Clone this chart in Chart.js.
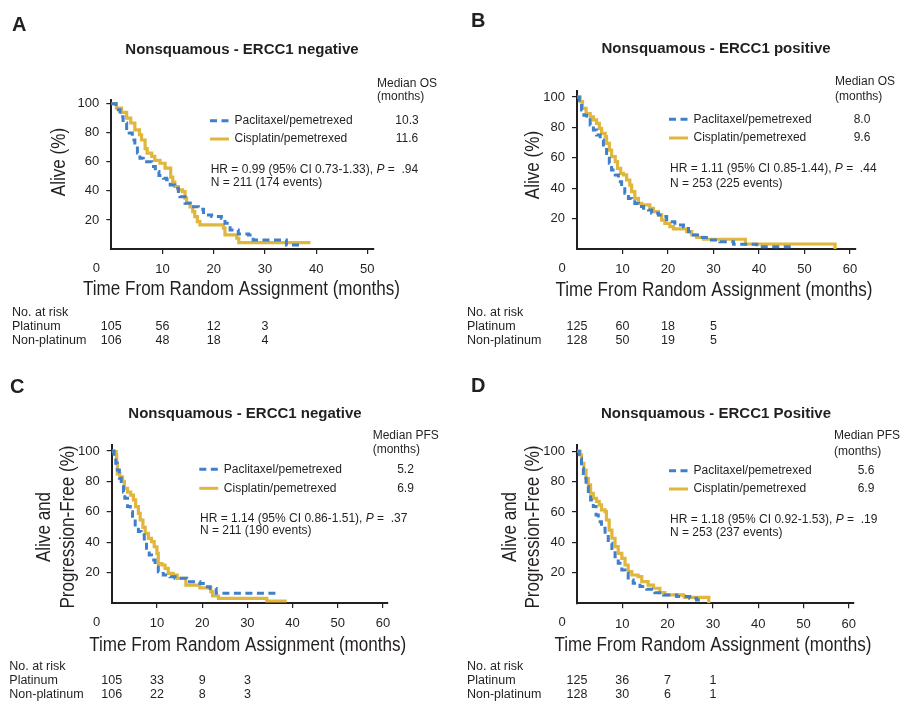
<!DOCTYPE html>
<html>
<head>
<meta charset="utf-8">
<script src="https://cdn.jsdelivr.net/npm/chart.js@4.4.1/dist/chart.umd.min.js"></script>
<style>
  html, body { margin: 0; padding: 0; background: #fff; }
  #wrap { position: relative; width: 907px; height: 709px; overflow: hidden; }
  #wrap canvas { position: absolute; left: 0; top: 0; }
</style>
</head>
<body>
<div id="wrap">
  <canvas id="pA" width="907" height="709"></canvas>
  <canvas id="pB" width="907" height="709"></canvas>
  <canvas id="pC" width="907" height="709"></canvas>
  <canvas id="pD" width="907" height="709"></canvas>
</div>
<script>
// ---- data (months, % alive / progression-free) ----

// A: overall survival, ERCC1 negative
const osNegPacT = [0, 0.9, 1.7, 2.3, 3.0, 3.5, 4.1, 4.6, 5.1, 5.6, 6.25, 7.9, 8.6, 9.3, 10.2, 10.8, 11.5, 12.4, 13.1, 13.4, 14.4, 15.4, 17.0, 18.0, 19.6, 21.5, 22.2, 23.2, 24.8, 26.8, 27.7, 34.2, 37.2];
const osNegPacS = [100, 95.9, 91, 86.7, 83, 79.8, 75, 70.6, 66, 62.5, 60, 56.8, 53.3, 50.5, 48.7, 47.6, 44, 41.8, 39.5, 36, 31.5, 29, 27.4, 23.4, 22.3, 21.1, 17.7, 13.1, 10.3, 9.7, 6.2, 2.8, 2.8];
const osNegCisT = [0, 1.0, 2.0, 3.0, 3.8, 4.6, 5.5, 5.9, 6.6, 7.0, 7.9, 8.5, 9.5, 10.5, 11.6, 12.0, 12.4, 13.1, 13.9, 14.4, 14.7, 15.4, 15.9, 16.3, 16.8, 17.3, 21.9, 22.2, 24.5, 24.9, 38.9];
const osNegCisS = [100, 97, 94, 90, 86.7, 82, 78.6, 75, 69, 66, 63.7, 61, 59, 55.6, 49.5, 46, 43, 40.7, 39.5, 35, 31.5, 29, 25.7, 22.3, 18.9, 16.6, 14.3, 9.7, 7.4, 4.4, 4.4];

// B: overall survival, ERCC1 positive
const osPosPacT = [0, 0.5, 1.0, 1.5, 2.1, 2.9, 3.6, 4.3, 5.1, 5.8, 6.5, 7.1, 7.6, 8.4, 9.1, 9.8, 10.5, 11.3, 12.0, 12.7, 13.5, 14.6, 15.7, 16.4, 17.9, 18.6, 19.7, 21.5, 23.4, 24.5, 25.6, 27.0, 29.2, 31.4, 34.4, 39.5, 47.2];
const osPosPacS = [100, 96, 91.4, 88, 85, 81.6, 78.3, 75, 71.7, 67.3, 61.8, 56.4, 52, 48.7, 44.3, 41, 36.6, 33.3, 32.2, 30, 27.9, 26.8, 25.7, 23.5, 22.4, 21.3, 18, 15.8, 14.7, 11.4, 9.2, 7.5, 5.9, 4.8, 3.1, 1.5, 1.5];
const osPosCisT = [0, 0.7, 1.2, 2.0, 2.9, 3.6, 4.3, 4.9, 5.4, 6.2, 6.5, 7.1, 7.6, 8.4, 8.9, 9.6, 10.2, 10.9, 11.6, 12.0, 12.7, 13.5, 14.2, 16.0, 16.8, 17.9, 18.6, 19.3, 20.4, 21.2, 24.1, 25.2, 26.3, 27.8, 37.0, 56.7];
const osPosCisS = [100, 97, 92.5, 89, 87, 85, 82.7, 79.4, 76, 74, 69.5, 65, 60.7, 57.5, 53, 49.8, 48.7, 45.4, 42, 37.7, 33.3, 30, 29, 26.8, 24.6, 22.4, 19, 16.9, 14.7, 13.2, 11.4, 9.2, 7.7, 6.4, 3.3, 0];

// C: progression-free survival, ERCC1 negative
const pfsNegPacT = [0, 0.5, 0.9, 1.25, 1.7, 2.1, 2.6, 2.9, 3.5, 4.1, 4.6, 5.2, 5.9, 6.5, 7.2, 7.7, 8.3, 8.8, 9.6, 10.3, 11.4, 12.9, 14.0, 16.6, 19.5, 20.6, 21.8, 23.1, 37.2];
const pfsNegPacS = [100, 96, 92, 87.5, 82, 77.6, 73, 68.9, 63.4, 60, 55.7, 49.8, 47, 44.7, 40.4, 36, 31.6, 28.3, 23.9, 20.6, 18.4, 17.3, 16.2, 14, 12.9, 10.7, 9.6, 6.4, 6.4];
const pfsNegCisT = [0, 0.4, 1.0, 1.1, 1.25, 1.8, 2.4, 2.8, 3.5, 4.2, 4.8, 5.3, 5.9, 6.3, 6.9, 7.4, 8.1, 8.8, 9.4, 10.0, 10.3, 11.1, 11.8, 12.5, 13.6, 14.5, 16.4, 19.5, 21.9, 22.3, 23.6, 34.3, 38.7];
const pfsNegCisS = [100, 99.6, 97.4, 92, 85, 83, 80, 75.4, 73, 71, 67.8, 63.4, 59, 54.6, 49.8, 45.8, 42.5, 40.4, 37, 32.7, 26, 25, 22.8, 19.5, 18.4, 16.2, 11.8, 10, 7.5, 4.6, 3, 1.3, 1.3];

// D: progression-free survival, ERCC1 positive
const pfsPosPacT = [0, 0.5, 1.0, 1.4, 2.0, 2.5, 3.0, 3.6, 4.2, 4.7, 5.4, 6.2, 6.9, 7.7, 8.4, 9.1, 9.9, 10.6, 11.3, 12.4, 13.9, 15.4, 17.2, 19.1, 22.0, 24.9, 26.4, 27.5];
const pfsPosPacS = [100, 95.4, 88.8, 82.2, 76.8, 72.4, 68, 63.6, 58.1, 53.7, 49.3, 45, 39.5, 35, 30.7, 26.3, 21.9, 19.7, 15.4, 13.2, 11, 9.2, 7, 5.5, 4.4, 3.3, 2.2, 1.1];
const pfsPosCisT = [0, 0.7, 1.0, 1.5, 2.0, 2.5, 3.0, 3.6, 4.3, 4.9, 5.4, 6.2, 6.5, 7.1, 7.7, 8.4, 9.1, 9.9, 10.6, 11.3, 12.1, 13.5, 14.3, 15.7, 16.9, 18.3, 19.4, 23.5, 23.8, 29.1];
const pfsPosCisS = [100, 97.6, 92, 87.7, 82, 77.9, 72.4, 69, 67, 64.7, 61.4, 60.3, 54.8, 48.2, 42.8, 37.3, 32.9, 29.6, 25.2, 20.8, 18.6, 17.5, 14.3, 12, 9.9, 7, 5.5, 4.8, 3.9, 0];

// numbers at risk, at 0/10/20/30 months
const riskMonths = [0, 10, 20, 30];
const osNegRiskPlat = [105, 56, 12, 3];
const osNegRiskNon = [106, 48, 18, 4];
const osPosRiskPlat = [125, 60, 18, 5];
const osPosRiskNon = [128, 50, 19, 5];
const pfsNegRiskPlat = [105, 33, 9, 3];
const pfsNegRiskNon = [106, 22, 8, 3];
const pfsPosRiskPlat = [125, 36, 7, 1];
const pfsPosRiskNon = [128, 30, 6, 1];

// medians [paclitaxel, cisplatin] and HR lines
const osNegMed = ['10.3', '11.6'];
const osPosMed = ['8.0', '9.6'];
const pfsNegMed = ['5.2', '6.9'];
const pfsPosMed = ['5.6', '6.9'];
const osNegHr = ['0.99', '0.73-1.33', '.94', '211', '174'];
const osPosHr = ['1.11', '0.85-1.44', '.44', '253', '225'];
const pfsNegHr = ['1.14', '0.86-1.51', '.37', '211', '190'];
const pfsPosHr = ['1.18', '0.92-1.53', '.19', '253', '237'];

const yTicks = [20, 40, 60, 80, 100];

const BLUE = '#3f7fcc';
const GOLD = '#e0b63c';
const INK = '#231f20';
const SANS = '"Liberation Sans", Arial, Helvetica, sans-serif';
const DASH = [7, 4.5];
const Y_W = 40, X_H = 30;

const panels = [
  { id: 'pA', letter: 'A', letterPos: [12, 25], title: 'Nonsquamous - ERCC1 negative', titlePos: [242, 49.5],
    area: { left: 111.3, right: 374, top: 99.6, bottom: 249 }, xMax: 51.3, yMax: 102.8, xTicks: [10, 20, 30, 40, 50],
    yTitle: ['Alive (%)'], yTitleX: [59], yTitleY: 162, xTitlePos: [241.5, 289],
    medHead: ['Median OS', '(months)'], medPos: [377, 83.3, 97], medValX: 407, medAlign: 'center',
    legX: 210, legY: [120.7, 139], hrPos: [210.7, 169.3, 182.7], riskX: 12, riskY: [312.7, 327, 341],
    pacT: osNegPacT, pacS: osNegPacS, cisT: osNegCisT, cisS: osNegCisS,
    med: osNegMed, hr: osNegHr, plat: osNegRiskPlat, non: osNegRiskNon },
  { id: 'pB', letter: 'B', letterPos: [471, 21], title: 'Nonsquamous - ERCC1 positive', titlePos: [716, 49],
    area: { left: 577, right: 856, top: 90.9, bottom: 249 }, xMax: 61.3, yMax: 104, xTicks: [10, 20, 30, 40, 50, 60],
    yTitle: ['Alive (%)'], yTitleX: [533], yTitleY: 165, xTitlePos: [714, 290],
    medHead: ['Median OS', '(months)'], medPos: [835, 82, 97], medValX: 862, medAlign: 'center',
    legX: 669, legY: [119.3, 138], hrPos: [670, 169, 184], riskX: 467, riskY: [313, 327, 341],
    pacT: osPosPacT, pacS: osPosPacS, cisT: osPosCisT, cisS: osPosCisS,
    med: osPosMed, hr: osPosHr, plat: osPosRiskPlat, non: osPosRiskNon },
  { id: 'pC', letter: 'C', letterPos: [10, 387], title: 'Nonsquamous - ERCC1 negative', titlePos: [245, 414],
    area: { left: 111.7, right: 388, top: 444.9, bottom: 603 }, xMax: 61.1, yMax: 104, xTicks: [10, 20, 30, 40, 50, 60],
    yTitle: ['Alive and', 'Progression-Free (%)'], yTitleX: [44, 68.5], yTitleY: 527, xTitlePos: [247.7, 645],
    medHead: ['Median PFS', '(months)'], medPos: [372.7, 436, 450], medValX: 405.5, medAlign: 'center',
    legX: 199.3, legY: [469.3, 488.3], hrPos: [200, 518.3, 531], riskX: 9.3, riskY: [666.7, 680.7, 695],
    pacT: pfsNegPacT, pacS: pfsNegPacS, cisT: pfsNegCisT, cisS: pfsNegCisS,
    med: pfsNegMed, hr: pfsNegHr, plat: pfsNegRiskPlat, non: pfsNegRiskNon },
  { id: 'pD', letter: 'D', letterPos: [471, 386], title: 'Nonsquamous - ERCC1 Positive', titlePos: [716, 414],
    area: { left: 577, right: 853.3, top: 445.2, bottom: 603.3 }, xMax: 61, yMax: 104, xTicks: [10, 20, 30, 40, 50, 60],
    yTitle: ['Alive and', 'Progression-Free (%)'], yTitleX: [510, 533.5], yTitleY: 527, xTitlePos: [713, 645],
    medHead: ['Median PFS', '(months)'], medPos: [834, 436, 452], medValX: 866, medAlign: 'center',
    legX: 669, legY: [470.7, 489], hrPos: [670, 519.3, 533], riskX: 467, riskY: [667, 681, 695],
    pacT: pfsPosPacT, pacS: pfsPosPacS, cisT: pfsPosCisT, cisS: pfsPosCisS,
    med: pfsPosMed, hr: pfsPosHr, plat: pfsPosRiskPlat, non: pfsPosRiskNon }
];

function toPts(t, s) {
  return t.map((v, i) => ({ x: v, y: s[i] }));
}

// narrow axis titles: squeeze Liberation Sans to the width of the original
function narrow(c, txt, x, y, rotate, sx) {
  c.save();
  c.translate(x, y);
  if (rotate) c.rotate(-Math.PI / 2);
  c.scale(sx, 1);
  c.textAlign = 'center';
  c.textBaseline = 'middle';
  c.fillText(txt, 0, 0);
  c.restore();
}

function drawText(chart, p) {
  const c = chart.ctx;
  const xs = chart.scales.x;
  c.save();
  c.fillStyle = INK;
  c.textBaseline = 'middle';

  c.font = 'bold 20px ' + SANS;
  c.textAlign = 'left';
  c.fillText(p.letter, p.letterPos[0], p.letterPos[1]);

  c.font = 'bold 15px ' + SANS;
  c.textAlign = 'center';
  c.fillText(p.title, p.titlePos[0], p.titlePos[1]);

  // origin "0" sits left of the axis corner
  c.font = '13px ' + SANS;
  c.fillText('0', xs.getPixelForValue(0) - 15, xs.top + 5 + 8 + 6.5);

  // axis titles
  const xTitle = 'Time From Random Assignment (months)';
  c.font = '20px ' + SANS;
  const sx = 317 / c.measureText(xTitle).width;
  narrow(c, xTitle, p.xTitlePos[0], p.xTitlePos[1], false, sx);
  p.yTitle.forEach((t, i) => narrow(c, t, p.yTitleX[i], p.yTitleY, true, sx));

  // median header + legend
  c.font = '12px ' + SANS;
  c.textAlign = 'left';
  c.fillText(p.medHead[0], p.medPos[0], p.medPos[1]);
  c.fillText(p.medHead[1], p.medPos[0], p.medPos[2]);

  const names = ['Paclitaxel/pemetrexed', 'Cisplatin/pemetrexed'];
  names.forEach((nm, i) => {
    const y = p.legY[i];
    c.save();
    c.strokeStyle = i === 0 ? BLUE : GOLD;
    c.lineWidth = 3;
    c.setLineDash(i === 0 ? DASH : []);
    c.beginPath();
    c.moveTo(p.legX, y);
    c.lineTo(p.legX + 19, y);
    c.stroke();
    c.restore();
    c.textAlign = 'left';
    c.fillText(nm, p.legX + 24.5, y);
    c.textAlign = p.medAlign;
    c.fillText(p.med[i], p.medValX, y);
  });

  // HR line with italic P
  c.textAlign = 'left';
  let x = p.hrPos[0];
  const part1 = 'HR = ' + p.hr[0] + ' (95% CI ' + p.hr[1] + '), ';
  c.fillText(part1, x, p.hrPos[1]);
  x += c.measureText(part1).width;
  c.font = 'italic 12px ' + SANS;
  c.fillText('P', x, p.hrPos[1]);
  x += c.measureText('P').width;
  c.font = '12px ' + SANS;
  c.fillText(' =  ' + p.hr[2], x, p.hrPos[1]);
  c.fillText('N = ' + p.hr[3] + ' (' + p.hr[4] + ' events)', p.hrPos[0], p.hrPos[2]);

  // numbers at risk under the x scale
  c.font = '12.5px ' + SANS;
  c.fillText('No. at risk', p.riskX, p.riskY[0]);
  c.fillText('Platinum', p.riskX, p.riskY[1]);
  c.fillText('Non-platinum', p.riskX, p.riskY[2]);
  c.textAlign = 'center';
  riskMonths.forEach((m, i) => {
    const px = xs.getPixelForValue(m);
    c.fillText(String(p.plat[i]), px, p.riskY[1]);
    c.fillText(String(p.non[i]), px, p.riskY[2]);
  });
  c.restore();
}

function makePanel(p) {
  const ctx = document.getElementById(p.id).getContext('2d');
  const tickFont = { family: SANS, size: 13 };
  return new Chart(ctx, {
    type: 'line',
    data: {
      datasets: [
        { label: 'Paclitaxel/pemetrexed', data: toPts(p.pacT, p.pacS), borderColor: BLUE,
          borderWidth: 3, borderDash: DASH, stepped: true, pointRadius: 0, fill: false, order: 0 },
        { label: 'Cisplatin/pemetrexed', data: toPts(p.cisT, p.cisS), borderColor: GOLD,
          borderWidth: 3.2, stepped: true, pointRadius: 0, fill: false, order: 1 }
      ]
    },
    options: {
      responsive: false,
      animation: false,
      events: [],
      layout: {
        padding: {
          left: p.area.left - Y_W,
          right: 907 - p.area.right,
          top: p.area.top,
          bottom: 709 - p.area.bottom - X_H
        }
      },
      plugins: { legend: { display: false }, tooltip: { enabled: false }, title: { display: false } },
      scales: {
        x: {
          type: 'linear', min: 0, max: p.xMax,
          afterBuildTicks: s => { s.ticks = p.xTicks.map(v => ({ value: v })); },
          afterFit: s => { s.height = X_H; },
          grid: { drawOnChartArea: false, drawTicks: true, tickLength: 5, color: INK, lineWidth: 1.2 },
          border: { display: true, color: INK, width: 2 },
          ticks: { font: tickFont, color: INK, padding: 8, maxRotation: 0, autoSkip: false }
        },
        y: {
          type: 'linear', min: 0, max: p.yMax,
          afterBuildTicks: s => { s.ticks = yTicks.map(v => ({ value: v })); },
          afterFit: s => { s.width = Y_W; },
          grid: { drawOnChartArea: false, drawTicks: true, tickLength: 5, color: INK, lineWidth: 1.2 },
          border: { display: true, color: INK, width: 2 },
          ticks: { font: tickFont, color: INK, padding: 7 }
        }
      }
    },
    plugins: [{ id: 'panelText', afterDraw: chart => drawText(chart, p) }]
  });
}

panels.forEach(makePanel);
</script>
</body>
</html>
